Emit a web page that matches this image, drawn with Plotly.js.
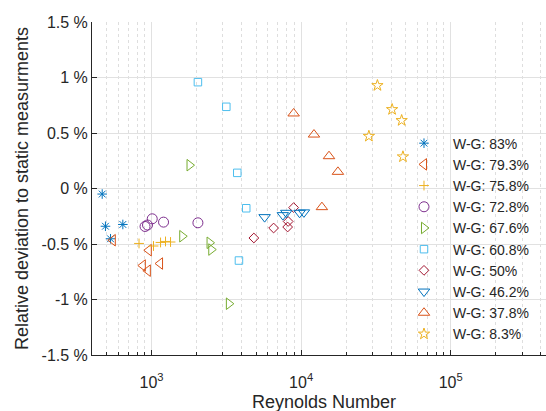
<!DOCTYPE html>
<html>
<head>
<meta charset="utf-8">
<script src="https://cdn.plot.ly/plotly-3.0.1.min.js"></script>
<style>html,body{margin:0;padding:0;background:#fff;}#chart{width:546px;height:411px;}</style>
</head>
<body>
<div id="chart"></div>
<script>
// Series names
const seriesNames = ["W-G: 83%", "W-G: 79.3%", "W-G: 75.8%", "W-G: 72.8%", "W-G: 67.6%",
                     "W-G: 60.8%", "W-G: 50%", "W-G: 46.2%", "W-G: 37.8%", "W-G: 8.3%"];
// Reynolds numbers per series
const re83   = [468, 492, 532, 643];
const re793  = [551, 959, 875, 945, 1140];
const re758  = [825, 1031, 1149, 1240, 1340];
const re728  = [905, 940, 1011, 1203, 2042];
const re676  = [1604, 1795, 2443, 2508, 3288];
const re608  = [2042, 3162, 3743, 4297, 3840];
const re50   = [4830, 6548, 8128, 8190, 8913];
const re462  = [5702, 7550, 7960, 9770, 10440];
const re378  = [8913, 12190, 15360, 17620, 13770];
const re83b  = [32360, 40560, 46990, 28380, 47940];
// Relative deviation (%) per series
const dev83  = [-0.05, -0.34, -0.453, -0.324];
const dev793 = [-0.466, -0.556, -0.694, -0.74, -0.676];
const dev758 = [-0.495, -0.518, -0.486, -0.477, -0.482];
const dev728 = [-0.342, -0.329, -0.273, -0.303, -0.309];
const dev676 = [-0.43, 0.21, -0.489, -0.55, -1.038];
const dev608 = [0.958, 0.736, 0.141, -0.178, -0.649];
const dev50  = [-0.446, -0.356, -0.347, -0.297, -0.172];
const dev462 = [-0.258, -0.24, -0.219, -0.219, -0.215];
const dev378 = [0.676, 0.486, 0.291, 0.15, -0.168];
const dev83b = [0.928, 0.712, 0.613, 0.471, 0.286];
// Axis tick labels and titles
const yTickVals = [-1.5, -1, -0.5, 0, 0.5, 1, 1.5];
const yTickText = ["-1.5 %", "-1 %", "-0.5 %", "0 %", "0.5 %", "1 %", "1.5 %"];
const xTickVals = [1000, 10000, 100000];
const xTickText = ["10<sup>3</sup>", "10<sup>4</sup>", "10<sup>5</sup>"];
const xTitle = "Reynolds Number";
const yTitle = "Relative deviation to static measurments";

const xs = [re83, re793, re758, re728, re676, re608, re50, re462, re378, re83b];
const ys = [dev83, dev793, dev758, dev728, dev676, dev608, dev50, dev462, dev378, dev83b];
const symbols = ["asterisk-open", "triangle-left-open", "cross-thin-open", "circle-open", "triangle-right-open",
                 "square-open", "diamond-open", "triangle-down-open", "triangle-up-open", "star-open"];
const sizes = [8, 10, 7, 10, 10, 7.5, 7.5, 10, 10, 8.5];
const colors = ["#0072BD", "#D95319", "#EDB120", "#7E2F8E", "#77AC30",
                "#4DBEEE", "#A2142F", "#0072BD", "#D95319", "#EDB120"];

const traces = xs.map((x, i) => ({
  type: "scatter", mode: "markers", name: seriesNames[i],
  x: x, y: ys[i],
  marker: {symbol: symbols[i], size: sizes[i], color: colors[i], line: {width: 1, color: colors[i]}}
}));

const minorVals = [];
for (let d = 2; d <= 5; d++) for (let k = 2; k <= 9; k++) minorVals.push(k * Math.pow(10, d));

const axColor = "#262626";
const layout = {
  width: 546, height: 411,
  margin: {l: 92, r: 0, t: 22, b: 56},
  paper_bgcolor: "#ffffff", plot_bgcolor: "#ffffff",
  font: {family: "Liberation Sans, Arial, sans-serif", color: axColor, size: 16},
  showlegend: true,
  legend: {x: 0.6674, y: 0.683, xanchor: "left", yanchor: "top", bgcolor: "rgba(0,0,0,0)",
           font: {size: 14, color: axColor}, borderwidth: 0, itemwidth: 48},
  xaxis: {
    type: "log", range: [Math.log10(400), 5.637],
    tickmode: "array", tickvals: xTickVals, ticktext: xTickText,
    showline: true, linecolor: axColor, linewidth: 1, mirror: false,
    ticks: "inside", ticklen: 5, tickcolor: axColor, ticklabelstandoff: 13,
    showgrid: true, gridcolor: "#e1e1e1", gridwidth: 1,
    tickfont: {size: 16, color: axColor},
    minor: {tickmode: "array", tickvals: minorVals, ticks: "inside", ticklen: 3, tickcolor: axColor,
            showgrid: true, gridcolor: "#dedede", griddash: "dot", gridwidth: 1},
    automargin: false, zeroline: false
  },
  yaxis: {
    range: [-1.5, 1.5], tickmode: "array", tickvals: yTickVals, ticktext: yTickText,
    showline: true, linecolor: axColor, linewidth: 1, mirror: false,
    ticks: "inside", ticklen: 5, tickcolor: axColor,
    showgrid: true, gridcolor: "#e1e1e1", gridwidth: 1, zeroline: false,
    tickfont: {size: 16, color: axColor},
    title: {text: yTitle, font: {size: 18, color: axColor}, standoff: 8},
    automargin: false
  },
  annotations: [{
    text: xTitle, xref: "paper", yref: "paper", x: 0.51, y: -0.1426,
    xanchor: "center", yanchor: "middle", showarrow: false,
    font: {size: 18, color: axColor}
  }]
};

Plotly.newPlot("chart", traces, layout, {staticPlot: true, displayModeBar: false});
</script>
</body>
</html>
